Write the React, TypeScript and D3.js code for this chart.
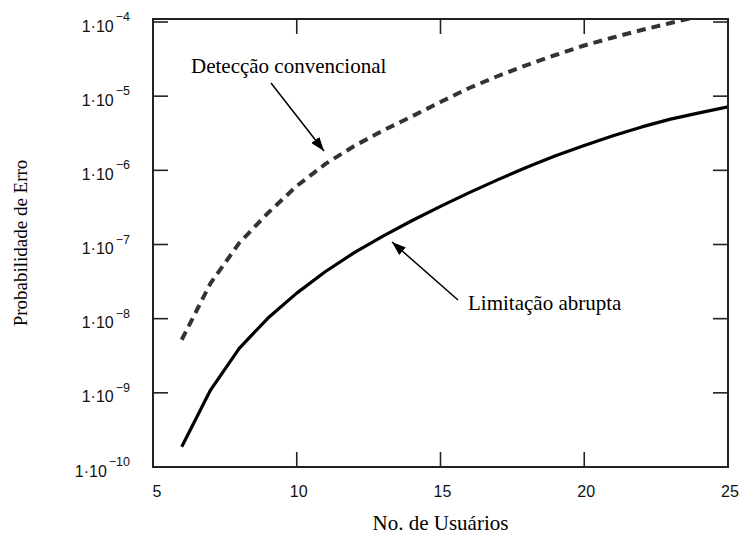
import React from "react";
import * as d3 from "d3";

// Number of users (x) and bit error probability for the two receivers
const users = [6, 7, 8, 9, 10, 11, 12, 13, 14, 15, 16, 17, 18, 19, 20, 21, 22, 23, 24, 25];
const deteccaoConvencional = [
  5.2e-9, 3.0e-8, 1.05e-7, 2.66e-7, 6.15e-7, 1.22e-6, 2.13e-6, 3.44e-6, 5.32e-6, 8.34e-6,
  1.29e-5, 1.87e-5, 2.63e-5, 3.59e-5, 4.82e-5, 6.18e-5, 7.8e-5, 9.7e-5, 1.2e-4, 1.45e-4,
];
const limitacaoAbrupta = [
  1.88e-10, 1.09e-9, 3.98e-9, 1.02e-8, 2.21e-8, 4.32e-8, 7.76e-8, 1.3e-7, 2.09e-7, 3.27e-7,
  5.01e-7, 7.5e-7, 1.1e-6, 1.57e-6, 2.16e-6, 2.92e-6, 3.85e-6, 4.9e-6, 5.96e-6, 7.16e-6,
];
const xTicks = [5, 10, 15, 20, 25];
const yTickExponents = [-4, -5, -6, -7, -8, -9, -10];

const W = 743;
const H = 541;
const left = 153;
const right = 728;
const frameTop = 19;
const bottom = 467;

const x = d3.scaleLinear().domain([5, 25]).range([left, right]);
const y = d3.scaleLog().domain([1e-10, 1e-4]).range([bottom, 22]);

const line = d3
  .line<[number, number]>()
  .x((d) => x(d[0]))
  .y((d) => y(d[1]));

const serif = "'Liberation Serif', 'Times New Roman', serif";
const sans = "'Liberation Sans', Arial, sans-serif";

export default function App() {
  const convPath = line(users.map((u, i) => [u, deteccaoConvencional[i]]) as [number, number][]) || "";
  const abruptPath = line(users.map((u, i) => [u, limitacaoAbrupta[i]]) as [number, number][]) || "";
  const tick = 15;

  return (
    <svg
      width={W}
      height={H}
      style={{ position: "absolute", left: 0, top: 0, background: "#fff" }}
    >
      <defs>
        <clipPath id="plot-area">
          <rect x={left} y={frameTop} width={right - left} height={bottom - frameTop} />
        </clipPath>
        <marker
          id="arrow"
          viewBox="0 0 14 10"
          refX="14"
          refY="5"
          markerWidth="14"
          markerHeight="10"
          markerUnits="userSpaceOnUse"
          orient="auto"
        >
          <path d="M0,0 L14,5 L0,10 Z" fill="#000" />
        </marker>
      </defs>

      {/* curves */}
      <g clipPath="url(#plot-area)">
        <path d={convPath} fill="none" stroke="#333" strokeWidth={4} strokeDasharray="9,6" />
        <path d={abruptPath} fill="none" stroke="#000" strokeWidth={3.2} strokeLinejoin="round" />
      </g>

      {/* frame */}
      <rect
        x={left}
        y={frameTop}
        width={right - left}
        height={bottom - frameTop}
        fill="none"
        stroke="#222"
        strokeWidth={2}
      />

      {/* x ticks, bottom and top */}
      {xTicks.slice(1, -1).map((t) => (
        <g key={"xt" + t} stroke="#222" strokeWidth={1.6}>
          <line x1={x(t)} x2={x(t)} y1={bottom} y2={bottom - tick} />
          <line x1={x(t)} x2={x(t)} y1={frameTop} y2={frameTop + tick} />
        </g>
      ))}
      {xTicks.map((t) => (
        <text
          key={"xl" + t}
          x={x(t) + (t === 5 ? 4 : 2)}
          y={497}
          textAnchor="middle"
          fontFamily={sans}
          fontSize={16}
          fill="#111"
        >
          {t}
        </text>
      ))}

      {/* y ticks, left and right */}
      {yTickExponents.slice(0, -1).map((e) => (
        <g key={"yt" + e} stroke="#222" strokeWidth={1.6}>
          <line x1={left} x2={left + tick} y1={y(Math.pow(10, e))} y2={y(Math.pow(10, e))} />
          <line x1={right} x2={right - tick} y1={y(Math.pow(10, e))} y2={y(Math.pow(10, e))} />
        </g>
      ))}
      {yTickExponents.map((e) => (
        <text
          key={"yl" + e}
          x={130}
          y={y(Math.pow(10, e)) + 9.5}
          textAnchor="end"
          fontFamily={sans}
          fontSize={16}
          fill="#111"
        >
          <tspan>1·10</tspan>
          <tspan dy={-10.5} dx={2} fontSize={12.5}>
            {"−" + Math.abs(e)}
          </tspan>
        </text>
      ))}

      {/* annotations */}
      <text x={191} y={73} fontFamily={serif} fontSize={21} fill="#000">
        Detecção convencional
      </text>
      <line x1={271} y1={83} x2={324} y2={151} stroke="#000" strokeWidth={1.5} markerEnd="url(#arrow)" />

      <text x={468} y={310} fontFamily={serif} fontSize={21} fill="#000">
        Limitação abrupta
      </text>
      <line x1={458} y1={300} x2={392} y2={242} stroke="#000" strokeWidth={1.5} markerEnd="url(#arrow)" />

      {/* axis titles */}
      <text x={(left + right) / 2} y={530} textAnchor="middle" fontFamily={serif} fontSize={21} fill="#000">
        No. de Usuários
      </text>
      <text
        transform={`translate(27, ${(frameTop + bottom) / 2}) rotate(-90)`}
        textAnchor="middle"
        fontFamily={serif}
        fontSize={19}
        fill="#000"
      >
        Probabilidade de Erro
      </text>
    </svg>
  );
}
